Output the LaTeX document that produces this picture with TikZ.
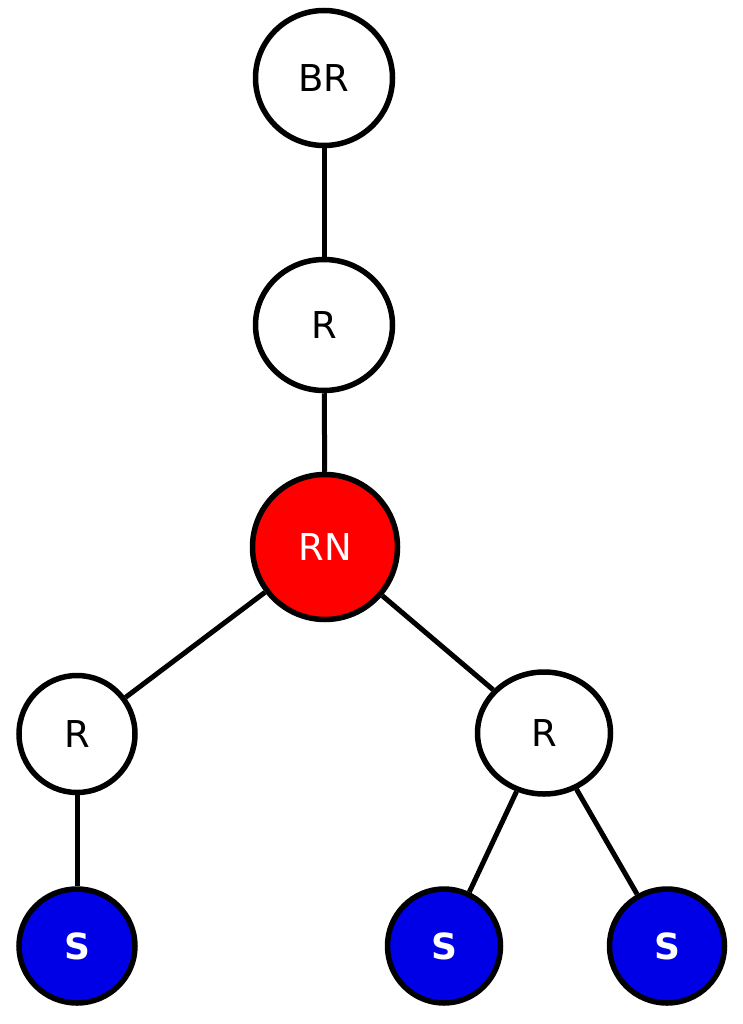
\documentclass[tikz,border=0pt]{standalone}
\usepackage{fontspec}
\setmainfont{DejaVu Sans}
\usetikzlibrary{shapes.geometric}
\definecolor{sblue}{RGB}{0,0,230}
\begin{document}
\begin{tikzpicture}[x=1pt,y=-1pt,
  nd/.style={ellipse,draw=black,line width=5.5pt,inner sep=0pt,font=\fontsize{37}{42}\selectfont},
  wnode/.style={nd,fill=white},
  rnode/.style={nd,fill=red,text=white},
  snode/.style={nd,fill=sblue,text=white,font=\fontsize{36}{42}\selectfont\bfseries},
  edge/.style={line width=5pt}]
\useasboundingbox (0,0) rectangle (743,1024);
\fill[white] (0,0) rectangle (743,1024);
\node[wnode,minimum width=137pt,minimum height=135pt] (br) at (324,78) {BR};
\node[wnode,minimum width=137pt,minimum height=131pt] (r1) at (324,325) {R};
\node[rnode,minimum width=145pt,minimum height=145pt] (rn) at (325,547) {RN};
\node[wnode,minimum width=116pt,minimum height=117pt] (rl) at (77,734) {R};
\node[wnode,minimum width=133pt,minimum height=122pt] (rr) at (544,733) {R};
\node[snode,minimum width=116pt,minimum height=114pt] (s1) at (77,946) {S};
\node[snode,minimum width=113pt,minimum height=114pt] (s2) at (444,946) {S};
\node[snode,minimum width=115pt,minimum height=114pt] (s3) at (667,946) {S};
\draw[edge] (br) -- (r1);
\draw[edge] (r1) -- (rn);
\draw[edge] (rn) -- (rl);
\draw[edge] (rn) -- (rr);
\draw[edge] (rl) -- (s1);
\draw[edge] (rr) -- (s2);
\draw[edge] (rr) -- (s3);
\end{tikzpicture}
\end{document}
